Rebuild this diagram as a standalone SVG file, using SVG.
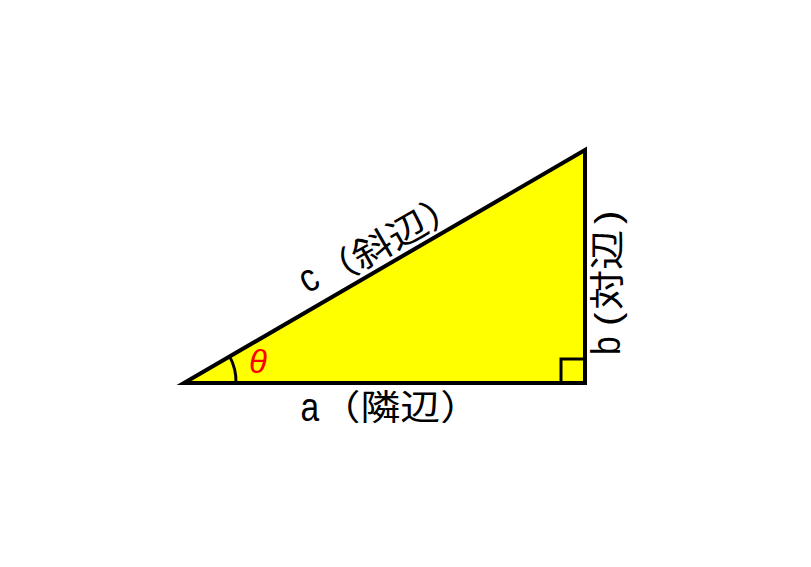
<svg xmlns="http://www.w3.org/2000/svg" width="811" height="567" viewBox="0 0 811 567">
<style>
.lat{font-family:"Liberation Sans",Arial,sans-serif;font-size:40px;fill:#000}
.cjk{font-family:"Liberation Sans","Noto Sans CJK JP",sans-serif;font-size:35px;fill:#000}
.edge{fill:none;stroke:#000;stroke-width:3}
</style>
<rect width="811" height="567" fill="#fff"/>
<g id="triangle">
<polygon points="184,383 585,383 585,150" fill="#ffff00" stroke="#000" stroke-width="4" stroke-linejoin="miter" stroke-miterlimit="20"/>
</g>
<g id="right-angle">
<rect x="561" y="359" width="24" height="24" class="edge"/>
</g>
<g id="angle">
<path d="M236,383 A53,53 0 0 0 229.6,356.4" class="edge"/>
<text x="249" y="373" font-family="Liberation Sans,Arial,sans-serif" font-style="italic" font-size="33" fill="#ff0000">θ</text>
</g>
<g id="label-a">
<text class="lat" transform="translate(300.5,421) scale(0.84,1)">a</text>
<text class="cjk" transform="translate(320.5,420) scale(1.14,1)">（隣辺）</text>
</g>
<g id="label-c">
<text class="lat" transform="translate(307.5,294) rotate(-29.8) scale(0.84,1)">c</text>
<text class="cjk" transform="translate(326.2,290.5) rotate(-29.8) scale(1.15,1)">（斜辺）</text>
</g>
<g id="label-b">
<text class="lat" transform="translate(620,355) rotate(-90) scale(0.84,1)">b</text>
<text class="cjk" transform="translate(620,355) rotate(-90) scale(1.15,1)"><tspan x="25.2">(</tspan><tspan x="39.1">対</tspan><tspan x="73.9">辺</tspan><tspan x="113.9">)</tspan></text>
</g>
</svg>
